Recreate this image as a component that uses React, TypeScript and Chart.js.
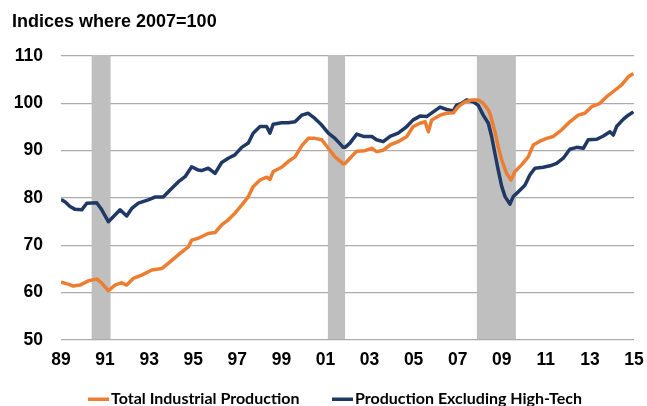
import React, { useEffect, useRef } from "react";
import { Chart, registerables } from "chart.js";

Chart.register(...registerables);

const titleText = "Indices where 2007=100";

const totalLabel = "Total Industrial Production";
const exHighTechLabel = "Production Excluding High-Tech";

const totalYears = [
  1989.0, 1989.33, 1989.56, 1989.86, 1990.24, 1990.62, 1990.85, 1991.15, 1991.45, 1991.75,
  1991.98, 1992.28, 1992.66, 1993.12, 1993.57, 1993.95, 1994.4, 1994.78, 1994.93, 1995.23,
  1995.68, 1995.99, 1996.29, 1996.59, 1996.89, 1997.2, 1997.5, 1997.72, 1998.03, 1998.33,
  1998.48, 1998.63, 1999.01, 1999.31, 1999.62, 1999.92, 2000.22, 2000.52, 2000.83, 2001.13,
  2001.43, 2001.81, 2001.89, 2002.11, 2002.42, 2002.79, 2003.1, 2003.32, 2003.62, 2003.93,
  2004.3, 2004.69, 2004.98, 2005.29, 2005.52, 2005.67, 2005.82, 2006.2, 2006.5, 2006.8,
  2007.03, 2007.33, 2007.63, 2007.93, 2008.16, 2008.39, 2008.46, 2008.69, 2008.84, 2009.0,
  2009.22, 2009.42, 2009.6, 2009.9, 2010.2, 2010.43, 2010.73, 2011.04, 2011.34, 2011.72,
  2012.09, 2012.47, 2012.77, 2013.08, 2013.45, 2013.76, 2014.06, 2014.44, 2014.74, 2014.97,
];
const totalValues = [
  62.2, 61.8, 61.4, 61.6, 62.5, 62.9, 62.0, 60.4, 61.6, 62.1,
  61.6, 63.0, 63.7, 64.8, 65.1, 66.5, 68.3, 69.7, 71.1, 71.5,
  72.5, 72.7, 74.3, 75.4, 76.8, 78.5, 80.3, 82.4, 83.8, 84.4,
  83.9, 85.6, 86.5, 87.7, 88.7, 91.0, 92.6, 92.6, 92.3, 90.5,
  88.7, 87.2, 87.3, 88.4, 89.9, 90.0, 90.5, 89.8, 90.1, 91.2,
  91.9, 93.0, 95.1, 95.8, 96.1, 94.0, 96.5, 97.5, 97.9, 98.0,
  99.3, 100.3, 100.7, 100.7, 100.0, 98.6, 97.9, 94.0, 90.8, 88.0,
  85.2, 83.8, 85.6, 87.0, 88.7, 91.2, 92.0, 92.6, 93.0, 94.4,
  96.1, 97.5, 97.9, 99.3, 100.0, 101.4, 102.5, 103.9, 105.6, 106.3,
];

const exHighTechYears = [
  1989.0, 1989.18, 1989.41, 1989.64, 1989.94, 1990.17, 1990.62, 1990.85, 1991.15, 1991.45,
  1991.68, 1991.98, 1992.21, 1992.51, 1992.96, 1993.26, 1993.64, 1993.95, 1994.32, 1994.63,
  1994.93, 1995.23, 1995.38, 1995.68, 1995.99, 1996.29, 1996.59, 1996.89, 1997.2, 1997.5,
  1997.72, 1998.03, 1998.33, 1998.48, 1998.63, 1999.01, 1999.31, 1999.62, 1999.92, 2000.22,
  2000.52, 2000.83, 2001.13, 2001.43, 2001.81, 2001.89, 2002.11, 2002.42, 2002.72, 2003.1,
  2003.32, 2003.62, 2003.93, 2004.3, 2004.69, 2004.98, 2005.29, 2005.59, 2005.89, 2006.2,
  2006.5, 2006.8, 2006.95, 2007.18, 2007.41, 2007.71, 2007.93, 2008.16, 2008.39, 2008.54,
  2008.69, 2008.84, 2009.0, 2009.15, 2009.37, 2009.52, 2009.75, 2010.05, 2010.28, 2010.51,
  2010.88, 2011.19, 2011.49, 2011.79, 2012.09, 2012.4, 2012.7, 2012.92, 2013.31, 2013.61,
  2013.91, 2014.06, 2014.21, 2014.51, 2014.74, 2014.97,
];
const exHighTechValues = [
  79.7, 79.2, 78.2, 77.6, 77.5, 78.9, 79.0, 77.5, 75.0, 76.4,
  77.5, 76.2, 77.8, 78.9, 79.6, 80.2, 80.2, 81.7, 83.4, 84.5,
  86.6, 85.9, 85.8, 86.3, 85.2, 87.5, 88.4, 89.1, 90.7, 91.6,
  93.7, 95.1, 95.1, 93.7, 95.6, 95.9, 95.9, 96.1, 97.5, 97.9,
  96.8, 95.4, 93.7, 92.6, 90.7, 90.7, 91.6, 93.5, 93.0, 93.0,
  92.3, 91.9, 93.0, 93.7, 95.1, 96.5, 97.3, 97.2, 98.2, 99.2,
  98.7, 98.4, 99.6, 100.0, 100.7, 100.3, 99.6, 97.5, 95.8, 93.0,
  89.4, 85.9, 82.4, 80.3, 78.7, 80.3, 81.3, 82.7, 84.9, 86.3,
  86.5, 86.8, 87.3, 88.4, 90.3, 90.7, 90.5, 92.3, 92.4, 93.1,
  94.0, 93.3, 95.1, 96.6, 97.5, 98.2,
];

const recessionStarts = [1990.39, 2001.11, 2007.87];
const recessionEnds = [1991.25, 2001.89, 2009.64];

const yTicks = [50, 60, 70, 80, 90, 100, 110];
const xTickYears = [1989, 1991, 1993, 1995, 1997, 1999, 2001, 2003, 2005, 2007, 2009, 2011, 2013, 2015];

const ORANGE = "#ED7D31";
const NAVY = "#1F3864";

const recessionPlugin = {
  id: "recessions",
  beforeDatasetsDraw(chart: any) {
    const { ctx, chartArea, scales } = chart;
    const xs = scales.x;
    ctx.save();
    ctx.fillStyle = "#BFBFBF";
    for (let i = 0; i < recessionStarts.length; i++) {
      const x0 = xs.getPixelForValue(recessionStarts[i]);
      const x1 = xs.getPixelForValue(recessionEnds[i]);
      ctx.fillRect(x0, chartArea.top - 1, x1 - x0, chartArea.bottom - chartArea.top);
    }
    ctx.restore();
  },
};

const decorPlugin = {
  id: "decor",
  afterDraw(chart: any) {
    const { ctx } = chart;
    ctx.save();
    ctx.fillStyle = "#000";
    ctx.font = "bold 18px 'Liberation Sans', Arial, sans-serif";
    ctx.textBaseline = "alphabetic";
    ctx.textAlign = "left";
    ctx.fillText(titleText, 12, 27);

    const items = [
      { label: chart.data.datasets[0].label, color: chart.data.datasets[0].borderColor, x: 88 },
      { label: chart.data.datasets[1].label, color: chart.data.datasets[1].borderColor, x: 332 },
    ];
    ctx.font = "bold 16px Lato, 'Open Sans', sans-serif";
    ctx.textBaseline = "middle";
    for (const it of items) {
      ctx.fillStyle = it.color;
      ctx.fillRect(it.x, 397.5, 21, 3.5);
      ctx.fillStyle = "#000";
      ctx.fillText(it.label, it.x + 23, 399);
    }
    ctx.restore();
  },
};

export default function App() {
  const canvasRef = useRef<HTMLCanvasElement | null>(null);

  useEffect(() => {
    const canvas = canvasRef.current;
    if (!canvas) return;
    const chart = new Chart(canvas, {
      type: "line",
      data: {
        datasets: [
          {
            label: totalLabel,
            data: totalYears.map((x, i) => ({ x, y: totalValues[i] })),
            borderColor: ORANGE,
            backgroundColor: ORANGE,
            borderWidth: 3.5,
            pointRadius: 0,
            tension: 0,
            borderJoinStyle: "round",
          },
          {
            label: exHighTechLabel,
            data: exHighTechYears.map((x, i) => ({ x, y: exHighTechValues[i] })),
            borderColor: NAVY,
            backgroundColor: NAVY,
            borderWidth: 3.5,
            pointRadius: 0,
            tension: 0,
            borderJoinStyle: "round",
          },
        ],
      },
      options: {
        responsive: false,
        animation: false,
        devicePixelRatio: 1,
        layout: { padding: { top: 56, left: 0, right: 13, bottom: 0 } },
        plugins: {
          legend: { display: false },
          title: { display: false },
          tooltip: { enabled: false },
        },
        scales: {
          x: {
            type: "linear",
            min: 1989,
            max: 2015,
            afterFit(scale: any) {
              scale.height = 66;
              scale.paddingLeft = 0;
              scale.paddingRight = 0;
            },
            afterBuildTicks(scale: any) {
              scale.ticks = xTickYears.map((v) => ({ value: v }));
            },
            grid: { display: false, drawTicks: false },
            border: { display: false },
            ticks: {
              padding: 10,
              maxRotation: 0,
              autoSkip: false,
              color: "#000",
              font: { family: "'Liberation Sans', Arial, sans-serif", size: 17.5, weight: "bold" },
              callback: (v: any) => String(Number(v) % 100).padStart(2, "0"),
            },
          },
          y: {
            min: 50,
            max: 110,
            afterFit(scale: any) {
              scale.width = 61;
              scale.paddingTop = 0;
              scale.paddingBottom = 0;
            },
            afterBuildTicks(scale: any) {
              scale.ticks = yTicks.map((v) => ({ value: v }));
            },
            grid: { color: "#ABABAB", lineWidth: 1.3, drawTicks: false },
            border: { display: false },
            ticks: {
              padding: 18,
              color: "#000",
              font: { family: "'Liberation Sans', Arial, sans-serif", size: 17.5, weight: "bold" },
            },
          },
        },
      },
      plugins: [recessionPlugin, decorPlugin],
    } as any);
    return () => chart.destroy();
  }, []);

  return (
    <div style={{ position: "fixed", left: 0, top: 0, width: 647, height: 406, background: "#fff" }}>
      <canvas ref={canvasRef} width={647} height={406} />
    </div>
  );
}
